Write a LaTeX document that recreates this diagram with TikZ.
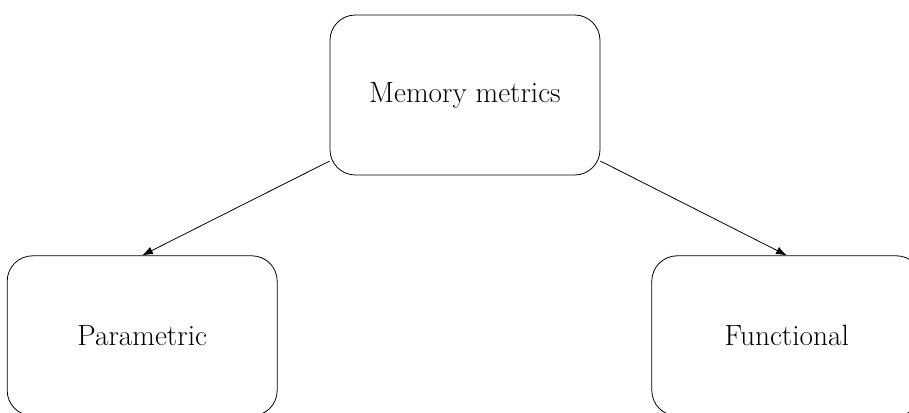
\documentclass[tikz,border=0pt]{standalone}
\usetikzlibrary{positioning, arrows.meta}

\begin{document}
\begin{tikzpicture}[node distance=2cm,
        metricbox/.style={draw, rectangle, rounded corners=19pt, line width=0.6pt,
            minimum width=202.5pt, minimum height=120pt, font=\fontsize{22}{26}\selectfont}]
        \useasboundingbox (-348.75pt,-237.75pt) rectangle (333pt,71.25pt);

        \node[metricbox] (M) at (0,0) {Memory metrics};

        \node[metricbox, below left=60pt and 39pt of M] (P) {Parametric};
        \node[metricbox, below right=60pt and 38.25pt of M] (F) {Functional};

        \draw[line width=0.6pt, -{Latex[length=8pt, width=6pt]}] (M.206) -- (P.north);
        \draw[line width=0.6pt, -{Latex[length=8pt, width=6pt]}] (M.334) -- (F.north);

    \end{tikzpicture}
\end{document}
